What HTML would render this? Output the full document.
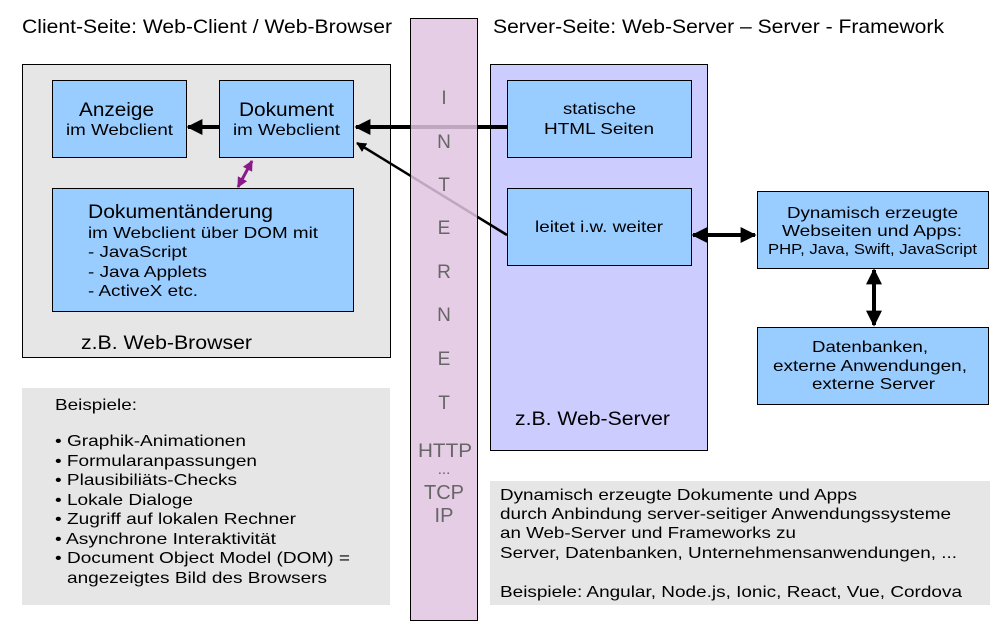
<!DOCTYPE html>
<html><head><meta charset="utf-8"><style>
html,body{margin:0;padding:0;background:#fff;}
svg{display:block;font-family:"Liberation Sans",Arial,sans-serif;}
</style></head><body>
<svg width="1004" height="642" viewBox="0 0 1004 642" xmlns="http://www.w3.org/2000/svg">
<defs>
<marker id="ah" viewBox="0 0 10 10" refX="9" refY="5" markerWidth="4" markerHeight="4" orient="auto-start-reverse"><path d="M0,0 L10,5 L0,10 z" fill="#000"/></marker>
<marker id="ap" viewBox="0 0 10 10" refX="9" refY="5" markerWidth="3.5" markerHeight="3.5" orient="auto-start-reverse"><path d="M0,0 L10,5 L0,10 z" fill="#8a1a8a"/></marker>
</defs>
<g lengthAdjust="spacingAndGlyphs">
<text x="22" y="33" font-size="19.5" textLength="370" lengthAdjust="spacingAndGlyphs">Client-Seite: Web-Client / Web-Browser</text>
<text x="493" y="33" font-size="19.5" textLength="451" lengthAdjust="spacingAndGlyphs">Server-Seite: Web-Server – Server - Framework</text>
</g>

<!-- client box -->
<rect x="22.5" y="64.5" width="368" height="293" fill="#e6e6e6" stroke="#000" stroke-width="1"/>
<rect x="52.5" y="80.5" width="134" height="77" fill="#99ccff" stroke="#000"/>
<text x="79" y="116" font-size="19" textLength="75" lengthAdjust="spacingAndGlyphs">Anzeige</text>
<text x="66" y="135" font-size="16" textLength="107" lengthAdjust="spacingAndGlyphs">im Webclient</text>
<rect x="219.5" y="80.5" width="134" height="77" fill="#99ccff" stroke="#000"/>
<text x="239" y="116" font-size="19" textLength="95" lengthAdjust="spacingAndGlyphs">Dokument</text>
<text x="233" y="135" font-size="16" textLength="107" lengthAdjust="spacingAndGlyphs">im Webclient</text>
<rect x="52.5" y="188.5" width="301" height="123" fill="#99ccff" stroke="#000"/>
<text x="88" y="218" font-size="19" textLength="185" lengthAdjust="spacingAndGlyphs">Dokumentänderung</text>
<text x="88" y="238" font-size="16" textLength="230" lengthAdjust="spacingAndGlyphs">im Webclient über DOM mit</text>
<text x="88" y="257" font-size="16" textLength="99" lengthAdjust="spacingAndGlyphs">- JavaScript</text>
<text x="88" y="277" font-size="16" textLength="119" lengthAdjust="spacingAndGlyphs">- Java Applets</text>
<text x="88" y="296" font-size="16" textLength="110" lengthAdjust="spacingAndGlyphs">- ActiveX etc.</text>
<text x="81" y="349" font-size="19" textLength="171" lengthAdjust="spacingAndGlyphs">z.B. Web-Browser</text>
<line x1="219" y1="127" x2="188" y2="127" stroke="#000" stroke-width="4" marker-end="url(#ah)"/>
<line x1="252" y1="161" x2="238" y2="187" stroke="#8a1a8a" stroke-width="3" marker-start="url(#ap)" marker-end="url(#ap)"/>

<!-- server box -->
<rect x="490.5" y="64.5" width="217" height="386" fill="#ccccff" stroke="#000"/>
<rect x="507.5" y="80.5" width="184" height="77" fill="#99ccff" stroke="#000"/>
<text x="563" y="114" font-size="16" textLength="73" lengthAdjust="spacingAndGlyphs">statische</text>
<text x="544" y="134" font-size="16" textLength="110" lengthAdjust="spacingAndGlyphs">HTML Seiten</text>
<rect x="507.5" y="188.5" width="184" height="77" fill="#99ccff" stroke="#000"/>
<text x="535" y="232" font-size="16" textLength="128" lengthAdjust="spacingAndGlyphs">leitet i.w. weiter</text>
<text x="515" y="425" font-size="19" textLength="155" lengthAdjust="spacingAndGlyphs">z.B. Web-Server</text>

<rect x="757.5" y="191.5" width="231" height="77" fill="#99ccff" stroke="#000"/>
<text x="787" y="218" font-size="16" textLength="171" lengthAdjust="spacingAndGlyphs">Dynamisch erzeugte</text>
<text x="782" y="236" font-size="16" textLength="180" lengthAdjust="spacingAndGlyphs">Webseiten und Apps:</text>
<text x="768" y="254" font-size="14.5" textLength="209" lengthAdjust="spacingAndGlyphs">PHP, Java, Swift, JavaScript</text>
<rect x="757.5" y="327.5" width="231" height="77" fill="#99ccff" stroke="#000"/>
<text x="812" y="352" font-size="16" textLength="116" lengthAdjust="spacingAndGlyphs">Datenbanken,</text>
<text x="773" y="371" font-size="16" textLength="194" lengthAdjust="spacingAndGlyphs">externe Anwendungen,</text>
<text x="812" y="389" font-size="16" textLength="123" lengthAdjust="spacingAndGlyphs">externe Server</text>
<line x1="693" y1="235" x2="755" y2="235" stroke="#000" stroke-width="4" marker-start="url(#ah)" marker-end="url(#ah)"/>
<line x1="874" y1="270" x2="874" y2="325" stroke="#000" stroke-width="4" marker-start="url(#ah)" marker-end="url(#ah)"/>

<!-- arrows to Dokument -->
<line x1="507" y1="127" x2="356" y2="127" stroke="#000" stroke-width="4" marker-end="url(#ah)"/>
<line x1="507" y1="235" x2="357" y2="143" stroke="#000" stroke-width="2.5" marker-end="url(#ah)"/>

<!-- internet strip -->
<rect x="410.5" y="18.5" width="67" height="602" fill="#e0c4e0" fill-opacity="0.85" stroke="#000"/>
<g font-size="19" fill="#666" text-anchor="middle">
<text x="444" y="104">I</text>
<text x="444" y="148">N</text>
<text x="444" y="191">T</text>
<text x="444" y="234">E</text>
<text x="444" y="278">R</text>
<text x="444" y="321">N</text>
<text x="444" y="365">E</text>
<text x="444" y="409">T</text>
<text x="445" y="457" textLength="54" lengthAdjust="spacingAndGlyphs">HTTP</text>
<text x="444" y="474" font-size="15">...</text>
<text x="444" y="499" font-size="20">TCP</text>
<text x="444" y="522" font-size="20">IP</text>
</g>

<!-- bottom boxes -->
<rect x="22" y="388" width="368" height="217" fill="#e6e6e6"/>
<g font-size="16">
<text x="55" y="410" textLength="82" lengthAdjust="spacingAndGlyphs">Beispiele:</text>
<text x="55" y="446" textLength="191" lengthAdjust="spacingAndGlyphs">• Graphik-Animationen</text>
<text x="55" y="466" textLength="202" lengthAdjust="spacingAndGlyphs">• Formularanpassungen</text>
<text x="55" y="485" textLength="182" lengthAdjust="spacingAndGlyphs">• Plausibiliäts-Checks</text>
<text x="55" y="505" textLength="138" lengthAdjust="spacingAndGlyphs">• Lokale Dialoge</text>
<text x="55" y="524" textLength="241" lengthAdjust="spacingAndGlyphs">• Zugriff auf lokalen Rechner</text>
<text x="55" y="544" textLength="221" lengthAdjust="spacingAndGlyphs">• Asynchrone Interaktivität</text>
<text x="55" y="563" textLength="295" lengthAdjust="spacingAndGlyphs">• Document Object Model (DOM) =</text>
<text x="67" y="583" textLength="260" lengthAdjust="spacingAndGlyphs">angezeigtes Bild des Browsers</text>
</g>
<rect x="490" y="481" width="500" height="124" fill="#e6e6e6"/>
<g font-size="16">
<text x="500" y="500" textLength="357" lengthAdjust="spacingAndGlyphs">Dynamisch erzeugte Dokumente und Apps</text>
<text x="500" y="519" textLength="451" lengthAdjust="spacingAndGlyphs">durch Anbindung server-seitiger Anwendungssysteme</text>
<text x="500" y="538" textLength="296" lengthAdjust="spacingAndGlyphs">an Web-Server und Frameworks zu</text>
<text x="500" y="558" textLength="457" lengthAdjust="spacingAndGlyphs">Server, Datenbanken, Unternehmensanwendungen, ...</text>
<text x="500" y="597" textLength="462" lengthAdjust="spacingAndGlyphs">Beispiele: Angular, Node.js, Ionic, React, Vue, Cordova</text>
</g>
</svg>
</body></html>
